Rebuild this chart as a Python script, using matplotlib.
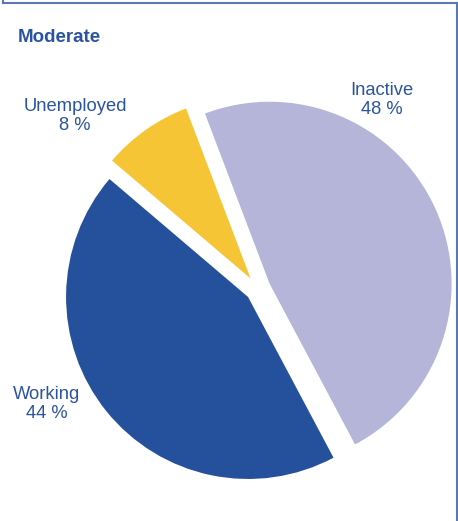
import matplotlib.pyplot as plt
from matplotlib.lines import Line2D

plt.rcParams['font.family'] = ['Liberation Sans', 'DejaVu Sans']

# employment status, moderate group
status = ['Inactive', 'Unemployed', 'Working']
share = [48, 8, 44]
colors = ['#b4b5d8', '#f5c535', '#25509c']
text_blue = '#2b54a0'

W, H = 458, 521
fig = plt.figure(figsize=(W / 100, H / 100), dpi=100)
ax = fig.add_axes([0, 0, 1, 1])

# pie centre at (258, 289) px, radius 182 px
cx, cy, r = 258, 289, 182
ax.set_xlim(-cx / r, (W - cx) / r)
ax.set_ylim(-(H - cy) / r, cy / r)
ax.axis('off')

ax.pie(share, colors=colors, startangle=-62, counterclock=True,
       explode=[0.07] * 3, radius=1, frame=True,
       wedgeprops=dict(linewidth=0))
ax.set_xlim(-cx / r, (W - cx) / r)
ax.set_ylim(-(H - cy) / r, cy / r)
ax.set_aspect('auto')
ax.axis('off')

# label positions in pixels
label_pos = {'Inactive': (382, 100), 'Unemployed': (75, 116), 'Working': (47, 404)}
for name, val in zip(status, share):
    px, py = label_pos[name]
    fig.text(px / W, 1 - py / H, f'{name}\n{val} %', ha='center', va='center',
             fontsize=13.2, color=text_blue, linespacing=1.1)

fig.text(18 / W, 1 - 37 / H, 'Moderate', ha='left', va='center',
         fontsize=13.5, fontweight='bold', color=text_blue)

# frame on left, top and right
border = '#5a78b4'
for xs, ys in [((2.5, 2.5), (0, 2.5)), ((2.5, 456.5), (2.5, 2.5)), ((456.5, 456.5), (2.5, H))]:
    fig.add_artist(Line2D([x / W for x in xs], [1 - y / H for y in ys],
                          color=border, linewidth=1.5))

fig.savefig('out.png', dpi=100, facecolor='white')
